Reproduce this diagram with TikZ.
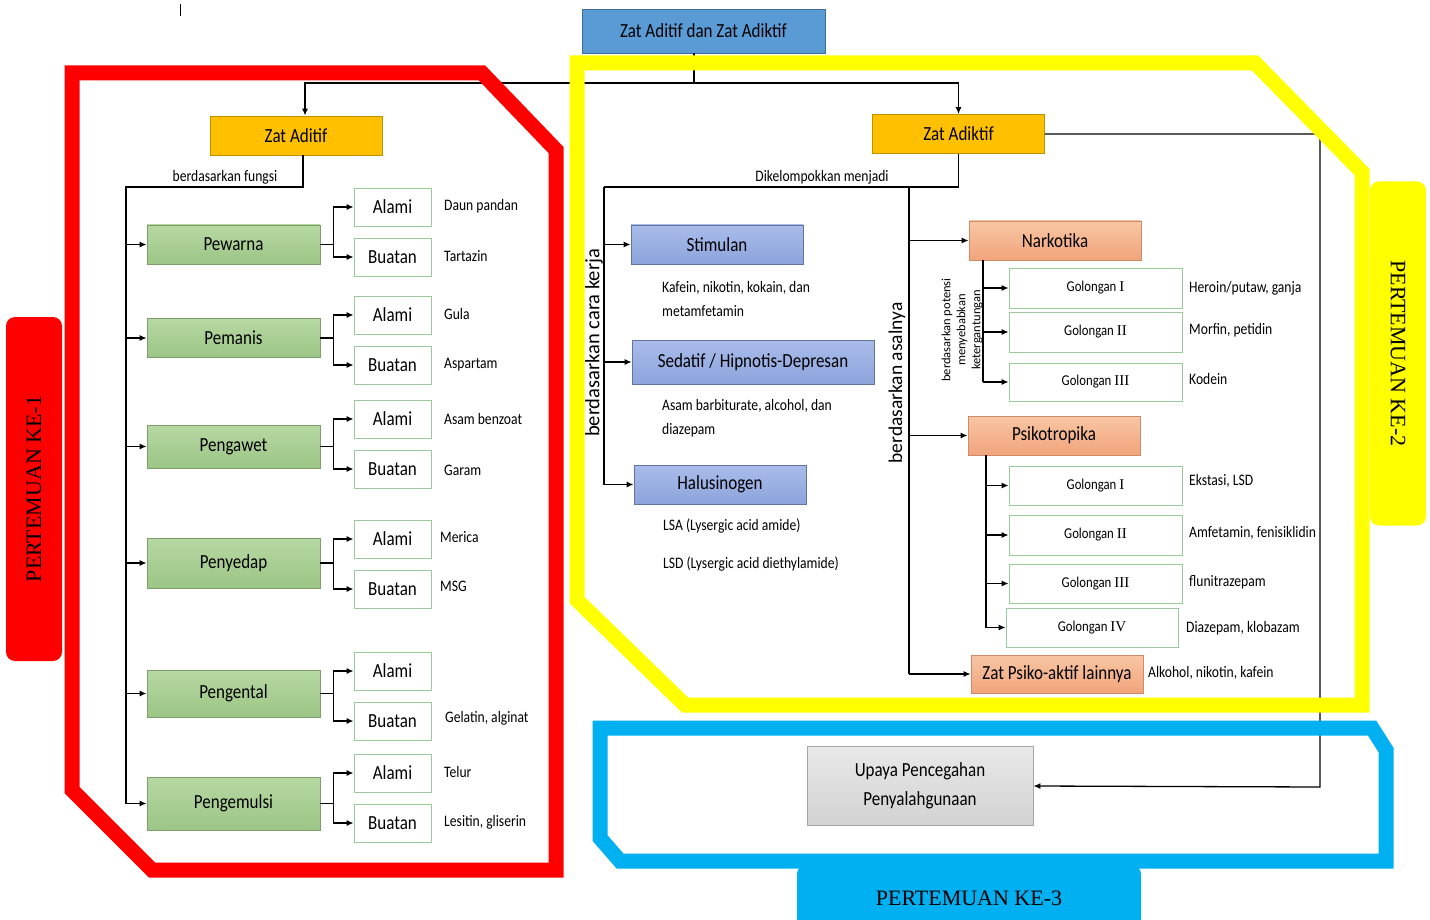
\documentclass[tikz,border=0pt]{standalone}
\usepackage{fontspec}
\setmainfont[FakeStretch=0.85]{Carlito}
\newfontfamily\timesfont{Liberation Serif}
\newfontfamily\tegakfont{Carlito}
\usetikzlibrary{arrows.meta}

\definecolor{birujudul}{HTML}{5B9BD5}
\definecolor{oranye}{HTML}{FFC000}
\definecolor{hijaumuda}{HTML}{B7D8A2}
\definecolor{hijautua}{HTML}{9CC586}
\definecolor{ungumuda}{HTML}{A9BCEA}
\definecolor{ungutua}{HTML}{8DA4DC}
\definecolor{salmonmuda}{HTML}{F8C6A4}
\definecolor{salmontua}{HTML}{F1A47B}
\definecolor{merah}{HTML}{FF0000}
\definecolor{kuningterang}{HTML}{FFFF00}
\definecolor{birulangit}{HTML}{00B0F0}

\tikzset{
  kotak/.style={draw, inner sep=0pt, minimum height=39pt, line width=0.8pt, font=\fontsize{20}{23}\selectfont},
  judulbox/.style={kotak, fill=birujudul, draw=birujudul!70!black, minimum width=243pt, minimum height=44pt},
  kuning/.style={kotak, fill=oranye, draw=oranye!75!black, minimum width=172pt},
  hijau/.style={kotak, top color=hijaumuda, bottom color=hijautua, draw=hijautua!80!black, minimum width=173pt},
  putih/.style={kotak, fill=white, draw=gray!70!green!60, minimum width=77pt, minimum height=38pt},
  biru/.style={kotak, top color=ungumuda, bottom color=ungutua, draw=ungutua!70!black, minimum width=172pt},
  salmon/.style={kotak, top color=salmonmuda, bottom color=salmontua, draw=salmontua!85!black, minimum width=172pt},
  golongan/.style={kotak, fill=white, draw=gray!70!green!60, minimum width=173pt, minimum height=40pt, font=\fontsize{15}{17}\selectfont},
  abu/.style={kotak, top color=gray!18, bottom color=gray!35, draw=gray!70, minimum width=226pt, minimum height=79pt, align=center, font=\fontsize{20}{29}\selectfont},
  ket/.style={anchor=west, inner sep=0pt, font=\fontsize{16}{24}\selectfont},
  tegak/.style={rotate=90, inner sep=0pt, font=\tegakfont\fontsize{20.5}{22}\selectfont},
  garis/.style={line width=1.3pt},
  panah/.style={->, line width=1.3pt},
  bingkai/.style={line width=15pt, line join=miter},
  tab/.style={rounded corners=9pt, inner sep=0pt, minimum width=344pt, minimum height=56pt, font=\timesfont\fontsize{22}{24}\selectfont}
}
\newcommand{\gol}[1]{Golongan {\timesfont #1}}

\begin{document}
\begin{tikzpicture}[x=1pt,y=-1pt,>={Latex[length=7pt,width=6pt]}]
  \useasboundingbox (0,0) rectangle (1430,920);
  %tanda kecil di pojok kiri atas
  	\draw[thin] (180,4) -- (180,16);

  %judul
  	\node[judulbox] (judul) at (703.5,31) {Zat Aditif dan Zat Adiktif};
  	\node[kuning] (aditif) at (296,135.5) {Zat Aditif};
  	\node[kuning] (adiktif) at (958.5,134) {Zat Adiktif};
  	\coordinate (pisah) at (694,83);
  	\draw[garis] (judul.south -| pisah) -- (pisah);
  	\draw[panah] (pisah) -| ([xshift=9pt]aditif.north);
  	\draw[panah] (pisah) -| (adiktif.north);

  %zat aditif berdasarkan fungsi
  	\node[hijau] (pewarna) at (233.5,244.5) {Pewarna};
  	\node[hijau] (pemanis) at (233.5,338) {Pemanis};
  	\node[hijau, minimum height=43pt] (pengawet) at (233.5,446.5) {Pengawet};
  	\node[hijau, minimum height=50pt] (penyedap) at (233.5,563) {Penyedap};
  	\node[hijau, minimum height=47pt] (pengental) at (233.5,693.5) {Pengental};
  	\node[hijau, minimum height=53pt] (pengemulsi) at (233.5,803.5) {Pengemulsi};
  	\coordinate (tA) at (126,187);
  	\draw[garis] ([xshift=7pt]aditif.south) |- (tA) -- (tA |- pengemulsi.west);
  	\node[ket, anchor=south] (fungsi) at (225,184) {berdasarkan fungsi};
  	\draw[panah] (tA |- pewarna.west) -- (pewarna.west);
  	\draw[panah] (tA |- pemanis.west) -- (pemanis.west);
  	\draw[panah] (tA |- pengawet.west) -- (pengawet.west);
  	\draw[panah] (tA |- penyedap.west) -- (penyedap.west);
  	\draw[panah] (tA |- pengental.west) -- (pengental.west);
  	\draw[panah] (tA |- pengemulsi.west) -- (pengemulsi.west);

  %alami dan buatan
  	\node[putih] (alami1) at (392.5,207) {Alami};
  	\node[putih] (buatan1) at (392.5,257) {Buatan};
  	\node[putih] (alami2) at (392.5,315) {Alami};
  	\node[putih] (buatan2) at (392.5,365) {Buatan};
  	\node[putih] (alami3) at (392.5,419) {Alami};
  	\node[putih] (buatan3) at (392.5,469) {Buatan};
  	\node[putih] (alami4) at (392.5,539) {Alami};
  	\node[putih] (buatan4) at (392.5,589) {Buatan};
  	\node[putih] (alami5) at (392.5,671) {Alami};
  	\node[putih] (buatan5) at (392.5,721) {Buatan};
  	\node[putih] (alami6) at (392.5,773) {Alami};
  	\node[putih] (buatan6) at (392.5,823) {Buatan};
  	\draw[panah] (pewarna.east) -- ++(13,0) |- (alami1.west);
  	\draw[panah] (pewarna.east) -- ++(13,0) |- (buatan1.west);
  	\draw[panah] (pemanis.east) -- ++(13,0) |- (alami2.west);
  	\draw[panah] (pemanis.east) -- ++(13,0) |- (buatan2.west);
  	\draw[panah] (pengawet.east) -- ++(13,0) |- (alami3.west);
  	\draw[panah] (pengawet.east) -- ++(13,0) |- (buatan3.west);
  	\draw[panah] (penyedap.east) -- ++(13,0) |- (alami4.west);
  	\draw[panah] (penyedap.east) -- ++(13,0) |- (buatan4.west);
  	\draw[panah] (pengental.east) -- ++(13,0) |- (alami5.west);
  	\draw[panah] (pengental.east) -- ++(13,0) |- (buatan5.west);
  	\draw[panah] (pengemulsi.east) -- ++(13,0) |- (alami6.west);
  	\draw[panah] (pengemulsi.east) -- ++(13,0) |- (buatan6.west);

  %contoh
  	\node[ket] (c1a) at (444,206) {Daun pandan};
  	\node[ket] (c1b) at (444,256) {Tartazin};
  	\node[ket] (c2a) at (444,314) {Gula};
  	\node[ket] (c2b) at (444,365) {Aspartam};
  	\node[ket] (c3a) at (444,419) {Asam benzoat};
  	\node[ket] (c3b) at (444,470) {Garam};
  	\node[ket] (c4a) at (440,537) {Merica};
  	\node[ket] (c4b) at (440,586) {MSG};
  	\node[ket] (c5b) at (445,718) {Gelatin, alginat};
  	\node[ket] (c6a) at (444,772) {Telur};
  	\node[ket] (c6b) at (444,822) {Lesitin, gliserin};

  %zat adiktif
  	\coordinate (tB) at (604,187);
  	\coordinate (tC) at (909,187);
  	\draw[garis] (adiktif.south) |- (tB);
  	\node[ket, anchor=south] (kelompok) at (822,184) {Dikelompokkan menjadi};

  %berdasarkan cara kerja
  	\node[biru] (stimulan) at (717,244.5) {Stimulan};
  	\node[biru, minimum width=242pt, minimum height=44pt] (sedatif) at (753,362) {Sedatif / Hipnotis-Depresan};
  	\node[biru] (halusinogen) at (720,484.5) {Halusinogen};
  	\draw[garis] (tB) -- (tB |- halusinogen.west);
  	\draw[panah] (tB |- stimulan.west) -- (stimulan.west);
  	\draw[panah] (tB |- sedatif.west) -- (sedatif.west);
  	\draw[panah] (tB |- halusinogen.west) -- (halusinogen.west);
  	\node[tegak] (carakerja) at (594,343) {berdasarkan cara kerja};
  	\node[ket, align=left] (k1) at (662,299) {Kafein, nikotin, kokain, dan\\metamfetamin};
  	\node[ket, align=left] (k2) at (662,418.5) {Asam barbiturate, alcohol, dan\\diazepam};
  	\node[ket] (k3) at (663,526) {LSA (Lysergic acid amide)};
  	\node[ket] (k4) at (663,564) {LSD (Lysergic acid diethylamide)};

  %berdasarkan asalnya
  	\node[salmon] (narkotika) at (1055,240.5) {Narkotika};
  	\node[salmon] (psikotropika) at (1054,435.5) {Psikotropika};
  	\node[salmon, minimum height=38pt] (lainnya) at (1057,674) {Zat Psiko-aktif lainnya};
  	\draw[garis] (tC) -- (tC |- lainnya.west);
  	\draw[panah] (tC |- narkotika.west) -- (narkotika.west);
  	\draw[panah] (tC |- psikotropika.west) -- (psikotropika.west);
  	\draw[panah] (tC |- lainnya.west) -- (lainnya.west);
  	\node[tegak, font=\tegakfont\fontsize{19.5}{22}\selectfont] (asalnya) at (897,383) {berdasarkan asalnya};

  %golongan narkotika
  	\node[golongan] (gn1) at (1095.5,288) {\gol{I}};
  	\node[golongan] (gn2) at (1095.5,332) {\gol{II}};
  	\node[golongan, minimum height=38pt] (gn3) at (1095.5,382) {\gol{III}};
  	\coordinate (nA) at (983,260);
  	\draw[garis] (nA) -- (nA |- gn3.west);
  	\draw[panah] (nA |- gn1.west) -- (gn1.west);
  	\draw[panah] (nA |- gn2.west) -- (gn2.west);
  	\draw[panah] (nA |- gn3.west) -- (gn3.west);
  	\node[tegak, align=center, font=\tegakfont\fontsize{12.5}{15}\selectfont] (potensi) at (962,330) {berdasarkan potensi\\menyebabkan\\ketergantungan};
  	\node[ket] (n1) at (1189,288) {Heroin/putaw, ganja};
  	\node[ket] (n2) at (1189,330) {Morfin, petidin};
  	\node[ket] (n3) at (1189,379) {Kodein};

  %golongan psikotropika
  	\node[golongan, minimum height=39pt] (gp1) at (1095.5,485.5) {\gol{I}};
  	\node[golongan] (gp2) at (1095.5,535) {\gol{II}};
  	\node[golongan, minimum height=39pt] (gp3) at (1095.5,583.5) {\gol{III}};
  	\node[golongan, minimum height=39pt, minimum width=172pt] (gp4) at (1092,627.5) {\gol{IV}};
  	\coordinate (pA) at (986,455);
  	\draw[garis] (pA) -- (pA |- gp4.west);
  	\draw[panah] (pA |- gp1.west) -- (gp1.west);
  	\draw[panah] (pA |- gp2.west) -- (gp2.west);
  	\draw[panah] (pA |- gp3.west) -- (gp3.west);
  	\draw[panah] (pA |- gp4.west) -- (gp4.west);
  	\node[ket] (p1) at (1189,481) {Ekstasi, LSD};
  	\node[ket] (p2) at (1189,533) {Amfetamin, fenisiklidin};
  	\node[ket] (p3) at (1189,582) {flunitrazepam};
  	\node[ket] (p4) at (1186,628) {Diazepam, klobazam};
  	\node[ket] (l1) at (1148,673) {Alkohol, nikotin, kafein};

  %upaya pencegahan
  	\node[abu] (upaya) at (920,786) {Upaya Pencegahan\\Penyalahgunaan};
  	\coordinate (sudut) at (1320,787);
  	\draw[panah] (adiktif.east) -| (sudut) -- (upaya.east);

  %bingkai pertemuan
  	\draw[bingkai, merah] (72,73) -- (482,73) -- (556,150) -- (556,870) -- (152,870) -- (72,790) -- cycle;
  	\draw[bingkai, kuningterang] (577,63) -- (1255,63) -- (1362,172) -- (1362,705) -- (685,705) -- (577,600) -- cycle;
  	\draw[bingkai, birulangit] (600,728) -- (1372,728) -- (1386,750) -- (1386,861) -- (620,861) -- (600,838) -- cycle;
  	\node[tab, fill=merah, rotate=90] (ke1) at (34,489) {PERTEMUAN KE-1};
  	\node[tab, fill=kuningterang, rotate=-90] (ke2) at (1398,353.5) {PERTEMUAN KE-2};
  	\node[tab, fill=birulangit, minimum height=66pt] (ke3) at (969,898) {PERTEMUAN KE-3};
\end{tikzpicture}
\end{document}
